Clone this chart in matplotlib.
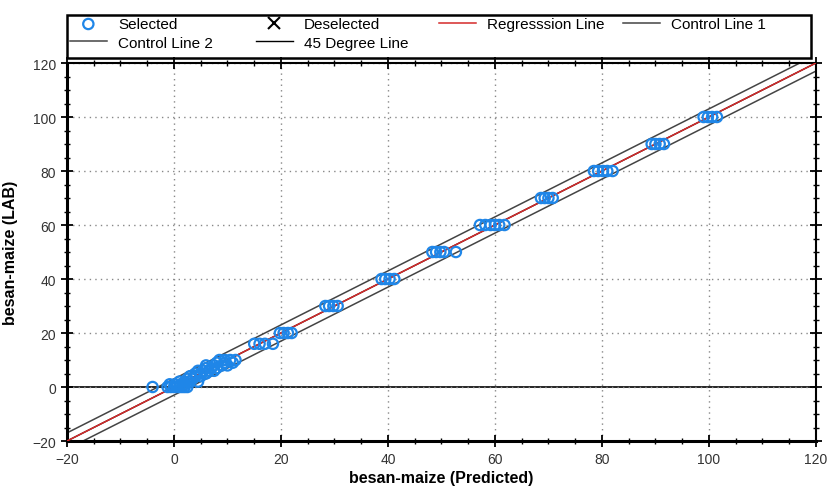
import numpy as np
import matplotlib.pyplot as plt
from matplotlib.ticker import MultipleLocator
from matplotlib.patches import Rectangle

plt.rcParams['font.family'] = ['Liberation Sans', 'DejaVu Sans']

# Selected samples: predicted vs laboratory value
pred = [-4, -1.2, -0.6, 0, 0.5, 1, 1.5, 2, 2.5,
        -0.8, 0.2, 1.2, 2,
        1, 2, 3, 4.5,
        2.5, 3.5,
        3, 4, 5,
        4, 5, 6,
        4.5, 5.5, 6.5, 7.5,
        6, 7, 8,
        6, 7.5, 9, 10,
        8, 9.5, 11,
        8.5, 9.5, 10.5, 11.5,
        15, 16, 17, 18.5,
        19.8, 20.5, 21.3, 22,
        28.3, 29, 29.8, 30.6,
        38.8, 39.5, 40.3, 41.2,
        48.3, 49, 49.8, 50.5, 52.7,
        57.2, 58.2, 59.2, 60, 60.8, 61.8,
        68.6, 69.3, 70, 70.8,
        78.5, 79.3, 80.2, 81, 82,
        89.3, 90, 90.8, 91.6,
        99, 99.8, 100.6, 101.5]
lab = [0, 0, 0, 0, 0, 0, 0, 0, 0,
       1, 1, 1, 1,
       2, 2, 2, 2,
       3, 3,
       4, 4, 4,
       5, 5, 5,
       6, 6, 6, 6,
       7, 7, 7,
       8, 8, 8, 8,
       9, 9, 9,
       10, 10, 10, 10,
       16, 16, 16, 16,
       20, 20, 20, 20,
       30, 30, 30, 30,
       40, 40, 40, 40,
       50, 50, 50, 50, 50,
       60, 60, 60, 60, 60, 60,
       70, 70, 70, 70,
       80, 80, 80, 80, 80,
       90, 90, 90, 90,
       100, 100, 100, 100]

line_x = np.array([-20, 120])
offset = 3  # control line band

fig = plt.figure(figsize=(8.3, 4.89), dpi=100)
ax = fig.add_axes([0.0807, 0.0961, 0.9023, 0.773])

ax.axhline(0, color='black', lw=1.2, zorder=1)
h45, = ax.plot(line_x, line_x, color='black', lw=1.0, zorder=2)
hc1, = ax.plot(line_x, line_x + offset, color='#444444', lw=1.1, zorder=2)
hc2, = ax.plot(line_x, line_x - offset, color='#444444', lw=1.1, zorder=2)
hreg, = ax.plot(line_x, line_x, color='#d42a2a', lw=1.1, zorder=3)

hsel = ax.scatter(pred, lab, s=55, facecolors='none', edgecolors='#1f86e8',
                  linewidths=1.6, zorder=4)
hdes, = ax.plot([], [], 'x', color='black', markersize=8, mew=1.5)

ax.set_xlim(-20, 120)
ax.set_ylim(-20, 120)
ax.xaxis.set_major_locator(MultipleLocator(20))
ax.yaxis.set_major_locator(MultipleLocator(20))
ax.xaxis.set_minor_locator(MultipleLocator(5))
ax.yaxis.set_minor_locator(MultipleLocator(5))
ax.tick_params(which='both', direction='inout', top=True, right=True,
               labeltop=False, labelright=False, colors='black',
               labelcolor='#333333', labelsize=10)
ax.tick_params(which='major', length=9, width=1.3)
ax.tick_params(which='minor', length=5, width=1.0)
ax.grid(True, which='major', linestyle=(0, (1, 3)), color='#888888', lw=1.0)
for side in ['left', 'bottom']:
    ax.spines[side].set_linewidth(2.2)
for side in ['top', 'right']:
    ax.spines[side].set_linewidth(1.5)

ax.set_xlabel('besan-maize (Predicted)', fontsize=11.5, fontweight='bold', labelpad=3)
ax.set_ylabel('besan-maize (LAB)', fontsize=11.5, fontweight='bold', labelpad=10)

# legend: four evenly spaced columns inside one frame
W, H = 830.0, 489.0
columns = [([hsel, hc2], ['Selected', 'Control Line 2']),
           ([hdes, h45], ['Deselected', '45 Degree Line']),
           ([hreg], ['Regresssion Line']),
           ([hc1], ['Control Line 1'])]
col_left = [70, 256, 439, 623]
for (handles, labels), xl in zip(columns, col_left):
    fig.legend(handles, labels, loc='upper left',
               bbox_to_anchor=(xl / W, 1 - 18 / H), frameon=False,
               fontsize=11, handlelength=2.4, handletextpad=0.75,
               borderaxespad=0, borderpad=0, labelspacing=0.3)
fig.patches.append(Rectangle((67 / W, 1 - 59 / H), (811 - 67) / W, 43 / H,
                             transform=fig.transFigure, fill=False,
                             edgecolor='black', lw=1.8))

plt.savefig('out.png', dpi=100)
